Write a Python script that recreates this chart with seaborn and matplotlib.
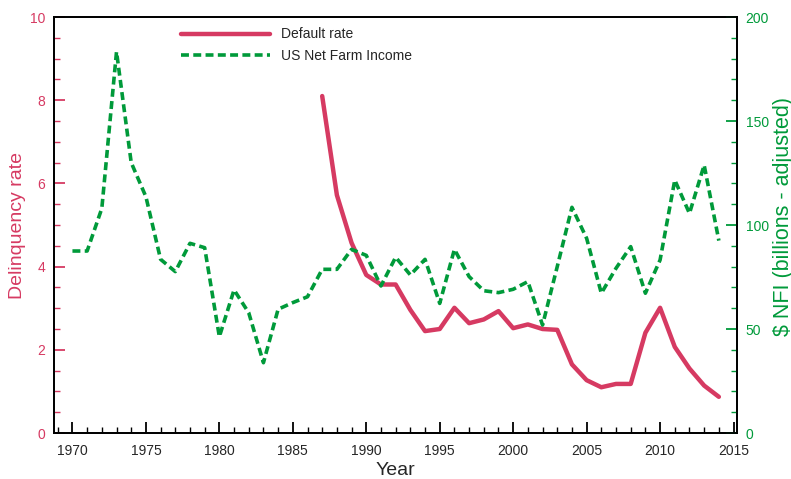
import numpy as np
import pandas as pd
import matplotlib
matplotlib.use("Agg")
import matplotlib.pyplot as plt
from matplotlib.ticker import MultipleLocator
import seaborn as sns

# data
default_years = list(range(1987, 2015))
default_rate = [8.10, 5.72, 4.57, 3.80, 3.57, 3.57, 2.96, 2.45, 2.50, 3.01,
                2.64, 2.73, 2.93, 2.52, 2.61, 2.50, 2.48, 1.65, 1.27, 1.10,
                1.18, 1.18, 2.41, 3.01, 2.07, 1.55, 1.14, 0.87]

nfi_years = list(range(1970, 2015))
nfi = [87.5, 87.5, 108.0, 183.3, 130.0, 113.6, 83.5, 77.6, 91.2, 89.1,
       46.3, 68.8, 57.8, 33.8, 59.5, 62.7, 65.5, 78.7, 78.7, 88.3,
       85.4, 70.7, 84.5, 76.0, 83.5, 62.3, 88.3, 75.2, 68.4, 67.5,
       69.1, 72.8, 51.9, 80.0, 108.5, 93.6, 67.2, 79.2, 89.6, 67.2,
       83.2, 121.6, 105.6, 128.8, 92.5]

crimson = "#d63a62"
green = "#009a3a"

sns.set_style("ticks")
plt.rcParams["font.family"] = ["Liberation Sans", "DejaVu Sans"]

df_def = pd.DataFrame({"Year": default_years, "rate": default_rate})
df_nfi = pd.DataFrame({"Year": nfi_years, "nfi": nfi})

fig, ax = plt.subplots(figsize=(7.91, 4.79), dpi=100)
fig.subplots_adjust(left=0.068, right=0.932, bottom=0.096, top=0.9645)
ax2 = ax.twinx()

sns.lineplot(data=df_def, x="Year", y="rate", ax=ax, color=crimson, lw=3.2,
             label="Default rate", legend=False)
sns.lineplot(data=df_nfi, x="Year", y="nfi", ax=ax2, color=green, lw=2.6,
             label="US Net Farm Income", legend=False, dashes=False)
ax2.lines[0].set_dashes((2.2, 1.2))

ax.set_xlim(1968.73, 2015.25)
ax.set_ylim(0, 10)
ax2.set_ylim(0, 200)

ax.xaxis.set_major_locator(MultipleLocator(5))
ax.xaxis.set_minor_locator(MultipleLocator(1))
ax.yaxis.set_major_locator(MultipleLocator(2))
ax.yaxis.set_minor_locator(MultipleLocator(0.5))
ax2.yaxis.set_major_locator(MultipleLocator(50))
ax2.yaxis.set_minor_locator(MultipleLocator(10))

ax.tick_params(axis="x", which="major", direction="in", length=8, width=1.3,
               color="black", labelsize=10, pad=8)
ax.tick_params(axis="x", which="minor", direction="in", length=4, width=1.0,
               color="black")
ax.tick_params(axis="y", which="major", direction="in", length=8, width=1.3,
               color=crimson, labelcolor=crimson, labelsize=10, pad=6)
ax.tick_params(axis="y", which="minor", direction="in", length=4, width=1.0,
               color=crimson)
ax2.tick_params(axis="y", which="major", direction="in", length=8, width=1.3,
                color=green, labelcolor=green, labelsize=10, pad=6)
ax2.tick_params(axis="y", which="minor", direction="in", length=4, width=1.0,
                color=green)

for a in (ax, ax2):
    for s in a.spines.values():
        s.set_visible(True)
        s.set_linewidth(1.3)
        s.set_color("black")

ax.set_xlabel("Year", fontsize=14, labelpad=3)
ax.set_ylabel("Delinquency rate", fontsize=14, color=crimson, labelpad=3)
ax2.set_ylabel("$ NFI (billions - adjusted)", fontsize=15.5, color=green)
ax2.yaxis.set_label_coords(1.053, 0.52)

handles = ax.lines[:1] + ax2.lines[:1]
ax.legend(handles, ["Default rate", "US Net Farm Income"],
          loc="upper left", bbox_to_anchor=(0.186, 0.975), frameon=False,
          fontsize=10, handlelength=6.4, handletextpad=0.8, borderpad=0,
          borderaxespad=0, labelspacing=0.55)

fig.savefig("out.png", dpi=100)
